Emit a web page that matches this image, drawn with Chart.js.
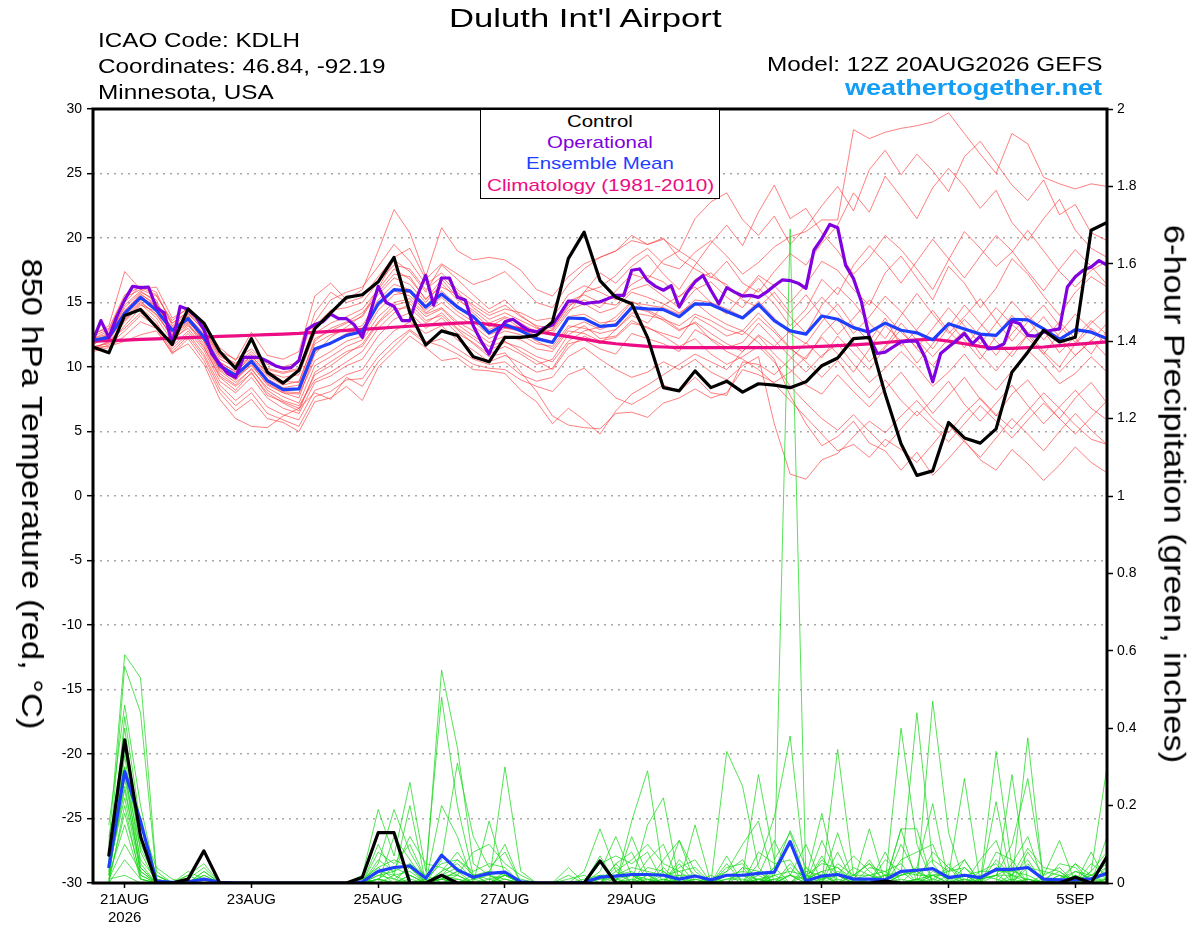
<!DOCTYPE html>
<html>
<head>
<meta charset="utf-8">
<title>Duluth Int'l Airport - GEFS 850 hPa temperature and precipitation</title>
<script src="https://cdn.jsdelivr.net/npm/chart.js@4.4.1/dist/chart.umd.min.js"></script>
<style>
  html, body { margin: 0; padding: 0; background: #fff; }
  #wrap { position: relative; width: 1200px; height: 927px; overflow: hidden;
          font-family: 'Liberation Sans', Arial, sans-serif; color: #000; }
  #wrap canvas { position: absolute; left: 0; top: 0; }
  .txt { position: absolute; white-space: nowrap; line-height: 1; transform-origin: 0 0; }
  .rot { position: absolute; white-space: nowrap; line-height: 1; transform-origin: 50% 50%; }
  #legendBox { position: absolute; left: 480px; top: 109px; width: 238px; height: 88px;
               border: 1.5px solid #000; background: #fff; }
</style>
</head>
<body>
<div id="wrap">
  <canvas id="chart" width="1200" height="927"></canvas>
  <div id="legendBox"></div>

  <div class="txt" data-x="585" data-align="center" data-base="27" data-w="272" data-fs="26">Duluth Int'l Airport</div>
  <div class="txt" data-x="98" data-align="left" data-base="47" data-w="202" data-fs="21">ICAO Code: KDLH</div>
  <div class="txt" data-x="98" data-align="left" data-base="73" data-w="288" data-fs="21">Coordinates: 46.84, -92.19</div>
  <div class="txt" data-x="98" data-align="left" data-base="99" data-w="176" data-fs="21">Minnesota, USA</div>
  <div class="txt" data-x="1102" data-align="right" data-base="71" data-w="335" data-fs="21">Model: 12Z 20AUG2026 GEFS</div>
  <div class="txt" data-x="1102" data-align="right" data-base="96" data-w="257" data-fs="22" style="font-weight:bold;color:#139ef5">weathertogether.net</div>

  <div class="txt" data-x="600" data-align="center" data-base="127.5" data-w="66" data-fs="17">Control</div>
  <div class="txt" data-x="600" data-align="center" data-base="148.5" data-w="106" data-fs="17" style="color:#8000e0">Operational</div>
  <div class="txt" data-x="600" data-align="center" data-base="169.5" data-w="148" data-fs="17" style="color:#1f3fff">Ensemble Mean</div>
  <div class="txt" data-x="600" data-align="center" data-base="191" data-w="227" data-fs="17" style="color:#ec0c84">Climatology (1981-2010)</div>

  <div class="rot" data-cx="32" data-cy="494" data-len="471" data-fs="30">850 hPa Temperature (red, °C)</div>
  <div class="rot" data-cx="1174" data-cy="494" data-len="539" data-fs="30">6-hour Precipitation (green, inches)</div>
</div>

<script>
// ------------------------------------------------------------
// Data (hours after 12Z 20AUG2026; 6-hourly, operational 3-hourly)
// ------------------------------------------------------------
const tickHours  = [12, 60, 108, 156, 204, 276, 324, 372];
const tickLabels = [['21AUG', '2026'], '23AUG', '25AUG', '27AUG', '29AUG', '1SEP', '3SEP', '5SEP'];

// 850 hPa temperature, control run (every 6 h from 0 h)
const controlTemp = [11.55,11.1,14.0,14.45,13.1,11.75,14.5,13.4,11.2,9.9,12.2,9.6,8.75,9.75,12.97,14.2,15.4,15.6,16.6,18.5,
  14.2,11.7,12.8,12.45,10.8,10.4,12.3,12.3,12.45,13.5,18.4,20.45,16.7,15.4,14.9,12.3,8.4,8.15,9.7,8.4,
  8.9,8.05,8.7,8.6,8.4,8.85,10.1,10.7,12.2,12.3,7.9,4.05,1.6,1.95,5.7,4.5,4.1,5.2,9.6,11.15,
  12.85,11.95,12.3,20.6,21.2];

// operational run (every 3 h from 0 h)
const operTemp = [12.07,13.6,12.3,13.9,15.2,16.25,16.15,16.2,14.6,14.2,11.75,14.7,14.45,13.9,12.9,11.0,10.25,9.5,9.2,10.75,
  10.75,10.75,10.45,10.1,9.9,9.95,10.5,12.9,13.3,13.5,14.1,13.75,13.75,13.25,12.3,14.2,16.25,15.0,14.7,13.6,
  13.6,15.6,17.1,14.8,16.9,16.9,15.4,15.2,13.2,12.0,11.0,12.6,13.5,13.7,13.25,12.85,12.7,13.05,13.25,14.15,
  15.1,15.1,14.9,15.0,15.05,15.3,15.55,15.55,17.5,17.6,16.7,16.25,15.95,16.3,14.65,15.8,16.6,17.1,15.95,14.9,
  16.15,15.8,15.5,15.55,15.4,15.8,16.3,16.75,16.7,16.5,16.1,19.05,19.95,21.05,20.8,17.9,16.85,15.05,12.3,11.05,
  11.15,11.55,11.95,12.0,12.0,10.8,8.85,11.05,11.55,12.05,12.6,11.8,12.4,11.4,11.5,11.8,13.55,13.35,12.45,12.4,
  12.7,12.85,12.95,16.2,17.0,17.5,17.75,18.25,17.9];

// ensemble mean
const meanTemp = [12.07,12.3,14.15,15.4,14.4,12.85,13.75,12.3,10.1,9.35,10.45,8.95,8.25,8.3,11.4,11.85,12.45,12.75,14.9,16.0,
  15.9,14.65,15.65,14.65,13.9,12.65,13.3,12.8,12.2,11.9,13.8,13.75,13.15,13.25,14.6,14.5,14.45,13.9,14.9,14.85,
  14.3,13.8,14.85,13.6,12.8,12.55,13.95,13.7,13.05,12.7,13.4,12.85,12.65,12.1,13.35,12.95,12.55,12.45,13.7,13.65,
  12.95,12.15,12.9,12.7,12.2];

// 1981-2010 climatology
const climTemp = [12.0,12.05,12.09,12.14,12.18,12.23,12.28,12.32,12.37,12.41,12.46,12.51,12.55,12.6,12.68,12.76,12.84,12.92,13.0,13.08,
  13.16,13.24,13.32,13.4,13.45,13.3,13.15,12.95,12.75,12.55,12.35,12.15,11.95,11.8,11.7,11.6,11.55,11.5,11.5,11.5,
  11.5,11.5,11.5,11.5,11.5,11.55,11.6,11.65,11.72,11.8,11.9,12.0,12.1,12.15,12.0,11.8,11.6,11.45,11.45,11.5,
  11.55,11.65,11.75,11.85,11.95];

// perturbed members, 850 hPa temperature
const memberTemps = [
  [12.2,12.8,15.0,16.3,15.8,13.2,14.1,12.9,10.8,10.2,11.0,9.8,9.5,9.8,13.5,15.2,15.8,16.2,17.8,19.5,18.2,16.4,17.3,16.0,15.1,
   14.2,14.8,13.9,13.2,13.0,14.6,15.8,16.2,17.1,18.4,19.2,18.0,17.6,18.9,19.8,18.6,17.2,18.1,19.3,
   20.1,20.5,21.4,21.4,28.4,27.7,28.2,28.5,28.7,29.0,29.7,28.1,26.5,25.0,28.1,27.3,24.7,24.2,23.8,24.2,24.0],
  [11.8,12.5,14.6,15.8,15.2,12.4,13.9,12.6,10.4,9.6,10.9,9.4,8.9,8.8,12.2,12.8,13.4,13.9,15.8,17.2,17.0,15.2,16.8,15.4,14.2,
   13.1,13.8,13.0,12.4,12.9,14.8,15.2,14.6,15.9,17.2,16.8,18.3,19.0,21.5,22.8,23.5,21.4,20.2,21.7,
   19.5,20.8,22.5,24.0,22.1,25.3,26.8,24.9,26.5,25.2,23.6,26.3,27.5,25.8,24.1,22.9,24.5,21.8,22.6,20.4,19.8],
  [12.5,13.2,17.4,16.0,16.2,13.8,14.5,13.2,11.5,10.5,12.7,10.9,10.6,11.2,15.5,16.5,15.2,16.0,19.0,22.2,20.4,17.0,20.8,19.0,18.3,
   18.5,18.3,17.5,16.0,15.5,17.0,18.0,18.5,19.0,20.2,19.5,20.0,18.4,17.6,16.9,18.2,16.5,15.8,17.4,
   18.8,17.9,19.6,21.0,23.5,22.0,24.8,23.2,21.5,23.9,25.4,24.0,22.3,23.7,21.2,19.8,21.5,23.0,20.6,19.2,18.5],
  [12.0,12.1,14.2,15.6,14.9,12.9,14.0,12.0,9.8,9.0,10.2,8.6,8.0,7.6,11.0,12.3,13.1,14.0,16.1,18.3,17.4,15.8,17.9,16.8,15.6,
   14.5,15.2,14.0,13.1,12.6,14.2,15.8,17.3,16.5,17.8,18.7,17.2,16.0,17.9,19.6,21.0,19.4,22.0,24.1,
   21.5,22.3,20.4,19.0,17.2,18.5,20.2,19.1,17.6,16.0,18.3,20.5,19.2,17.8,18.9,20.6,19.0,17.4,16.2,17.5,18.2],
  [11.5,11.9,13.5,14.8,14.3,12.2,13.0,11.5,9.2,8.2,9.6,7.8,7.3,6.8,9.4,10.1,11.0,11.8,13.5,14.8,15.1,13.9,14.5,13.3,12.4,
   11.6,12.0,11.2,10.5,9.8,11.5,12.4,11.8,12.9,14.0,13.4,14.8,15.5,16.2,15.0,14.1,15.6,17.1,16.3,
   15.0,16.4,18.2,17.5,16.0,14.8,17.3,18.6,16.9,15.2,17.8,16.5,14.6,16.1,18.4,17.2,15.5,14.0,15.8,17.0,16.2],
  [11.9,12.2,13.9,15.1,14.0,12.5,13.4,11.8,9.5,8.6,9.9,8.2,7.4,7.0,9.0,9.6,10.4,11.2,13.0,14.2,14.9,13.6,14.0,12.9,11.8,
   10.8,11.1,9.6,8.1,6.2,5.5,5.3,5.2,6.4,6.5,6.1,7.2,7.6,8.3,7.6,8.0,9.8,9.4,8.8,
   9.6,10.8,12.3,11.0,9.6,11.4,13.2,12.0,10.3,11.8,13.5,12.1,10.6,12.4,14.0,12.7,11.2,10.0,11.8,13.0,12.0],
  [12.1,12.4,14.4,15.5,14.6,13.0,13.8,12.4,10.2,9.5,10.6,9.1,8.4,8.6,11.8,12.5,12.9,13.2,15.2,16.4,16.0,14.8,15.9,14.8,13.9,
   12.9,13.4,13.0,12.3,12.0,13.9,14.1,13.4,13.6,15.0,14.8,14.6,14.1,15.2,15.0,14.5,13.9,15.1,13.8,
   12.6,11.8,13.5,14.9,13.2,12.0,13.8,11.6,12.9,14.4,12.8,11.5,13.1,14.6,13.3,12.2,11.0,12.6,14.1,12.9,11.7],
  [12.3,12.0,14.0,15.2,14.8,13.4,14.2,12.8,10.6,10.0,10.8,9.6,9.2,9.4,12.6,13.4,13.9,14.5,16.0,17.6,16.8,15.3,16.2,15.6,14.8,
   14.0,14.5,14.2,13.6,13.8,15.6,16.3,15.8,15.2,16.4,17.1,16.6,15.4,16.8,17.3,16.2,15.5,16.9,15.4,
   13.9,12.6,14.8,16.2,15.0,13.4,12.2,14.0,15.7,14.1,12.6,13.9,15.3,13.6,12.0,13.5,14.8,13.2,11.9,13.4,14.5],
  [11.7,12.6,13.6,14.9,13.8,12.0,13.2,12.1,9.9,9.2,10.1,8.7,8.0,7.9,10.5,11.2,12.0,12.4,14.4,15.6,15.8,14.2,15.0,14.0,13.2,
   12.2,12.8,12.5,11.8,11.6,13.2,13.0,12.6,12.9,14.2,14.0,13.7,13.2,14.1,13.6,12.9,12.5,13.8,12.7,
   11.4,10.6,12.5,13.8,11.9,10.4,11.6,13.4,12.1,10.8,12.2,13.7,12.4,10.9,12.6,14.0,12.8,11.1,12.4,13.6,12.5],
  [12.4,12.9,15.4,16.0,15.5,13.6,14.6,13.5,11.2,10.6,11.4,10.2,10.0,10.4,14.2,15.8,15.0,15.4,17.0,18.5,19.2,16.8,18.0,17.2,16.4,
   16.8,17.4,16.2,15.0,14.6,16.4,17.6,18.5,19.0,19.8,19.5,19.9,19.0,18.2,17.0,16.4,15.2,14.6,15.8,
   14.2,15.6,14.0,12.5,13.8,15.2,14.1,12.7,11.5,13.0,14.6,13.2,11.8,13.4,15.1,13.7,12.1,13.5,12.2,11.0,12.8],
  [11.6,11.8,13.2,14.6,13.5,11.4,12.6,11.0,8.6,7.4,8.4,6.9,6.3,5.9,8.2,8.6,9.4,9.8,11.6,12.8,13.5,12.6,13.2,12.1,11.3,
   10.4,10.9,10.3,9.6,9.9,11.8,12.1,11.4,11.0,12.6,12.2,11.8,11.2,12.9,12.2,11.5,11.9,13.4,12.1,
   10.8,9.6,10.9,11.8,10.2,8.8,9.9,11.2,10.0,8.5,9.6,11.0,9.4,8.2,9.7,11.3,10.1,8.7,9.5,10.8,9.6],
  [11.2,11.5,12.4,13.5,13.0,11.0,12.2,10.5,8.0,6.6,7.5,6.0,5.7,5.0,7.3,7.6,8.5,7.4,10.0,11.2,12.4,11.5,10.5,10.7,9.8,
   9.7,9.5,8.2,7.3,5.6,6.8,5.9,4.8,6.6,7.9,8.6,9.4,10.2,11.0,10.4,9.8,11.2,12.5,11.6,
   12.8,14.0,15.4,14.2,12.6,13.9,15.5,14.3,12.8,11.4,13.1,14.8,13.4,12.0,10.8,12.5,13.9,12.3,10.9,12.0,13.4],
  [12.0,12.3,14.8,15.9,15.0,12.6,13.5,12.2,10.0,9.0,10.4,8.8,8.1,8.0,11.2,11.9,12.6,13.0,14.7,15.9,15.5,14.4,15.4,14.3,13.5,
   12.5,13.0,12.8,12.0,11.4,13.0,13.5,12.9,13.4,14.6,14.3,13.6,12.8,13.5,12.6,11.8,11.2,12.4,11.0,
   9.8,8.6,7.9,9.4,8.1,6.9,8.3,9.6,8.0,6.4,7.8,9.2,7.5,6.2,7.9,9.0,7.4,6.0,7.6,8.8,7.2],
  [11.4,12.0,13.0,14.2,13.3,11.6,12.8,11.3,8.9,8.0,9.2,7.6,6.8,6.4,8.8,9.3,10.1,10.6,12.4,13.7,14.2,13.0,13.8,12.6,11.9,
   11.0,11.6,11.0,10.2,10.6,12.5,13.2,12.2,12.4,13.6,13.0,12.6,12.2,13.9,13.2,12.4,12.8,14.2,12.9,
   11.5,10.4,9.2,10.5,8.9,7.6,9.0,7.4,6.2,7.5,8.9,7.1,5.8,7.2,8.6,7.0,5.6,6.9,8.2,6.8,5.9],
  [12.2,12.6,14.1,15.3,14.4,12.7,13.6,12.0,9.7,8.8,9.8,8.4,7.7,7.2,10.1,10.8,11.6,12.1,13.9,15.0,15.3,14.1,14.6,13.5,12.8,
   11.9,12.4,12.1,11.4,11.2,12.8,12.6,12.0,12.3,13.4,13.1,12.4,11.6,12.2,11.0,10.2,10.8,11.6,10.4,
   8.5,7.2,6.0,5.1,6.3,5.0,3.8,5.2,6.6,5.4,4.2,5.6,7.0,5.8,4.5,5.9,7.2,6.0,4.8,6.1,7.4],
  [11.8,12.2,13.7,15.0,14.1,12.3,13.3,11.6,9.3,8.5,9.5,8.0,7.2,6.6,9.6,10.4,11.2,11.6,13.4,14.5,14.6,13.4,14.2,13.0,12.2,
   11.3,11.9,11.5,10.8,10.4,12.0,12.8,13.1,13.9,15.1,14.4,13.8,12.9,13.4,12.1,11.2,10.6,9.8,8.7,
   7.4,6.1,4.8,3.5,4.0,3.0,4.4,3.6,2.6,4.0,5.5,4.2,3.0,4.5,6.0,4.8,3.5,5.0,6.4,5.1,4.0],
  [12.6,13.0,15.6,16.2,15.6,13.4,14.3,13.0,10.9,10.3,11.2,9.9,9.6,9.9,13.2,14.4,14.6,15.0,16.6,17.9,17.6,16.0,17.0,15.8,14.6,
   13.7,14.2,13.6,13.0,12.8,14.4,14.9,14.2,14.6,15.8,15.4,14.9,14.2,15.0,14.0,13.3,12.8,11.9,10.6,
   7.8,5.6,3.9,4.6,5.8,4.1,3.5,2.0,3.4,1.6,2.9,4.3,2.8,2.0,3.6,2.5,1.2,2.4,3.8,2.6,1.8],
  [11.3,11.7,12.8,14.0,13.2,11.2,12.4,10.8,8.3,7.0,8.0,6.4,5.9,5.4,7.7,8.1,9.0,9.1,10.8,12.0,12.9,12.0,11.6,11.0,10.2,
   9.9,9.8,9.0,8.5,8.1,9.4,9.9,8.8,7.6,7.1,7.8,8.6,8.1,9.2,8.0,7.8,10.4,10.2,9.4,
   10.6,11.9,10.7,12.4,11.1,9.8,11.5,12.9,11.4,10.1,11.7,12.8,11.0,9.7,11.2,12.5,11.0,9.6,10.9,12.1,10.8],
  [12.1,12.5,14.3,15.7,14.7,13.1,13.9,12.5,10.3,9.7,10.7,9.3,8.6,8.9,12.0,13.0,13.5,14.2,15.6,16.9,16.4,15.0,16.5,15.2,14.4,
   13.4,13.9,13.4,12.7,13.2,15.1,15.6,15.0,14.8,16.0,16.4,15.5,14.6,16.0,16.6,15.4,14.6,16.1,14.9,
   13.2,14.5,16.8,15.6,17.9,19.4,18.1,16.5,18.2,19.9,18.4,16.9,18.6,20.2,19.0,17.4,15.9,17.6,19.1,17.8,16.4],
  [11.5,11.6,12.0,12.5,12.8,11.1,11.8,10.2,7.5,6.0,5.4,5.3,6.2,6.8,8.0,7.5,9.2,8.5,10.4,11.6,12.8,11.8,12.2,11.4,10.6,
   10.2,10.4,9.4,8.9,9.2,10.8,11.5,10.6,9.8,9.2,9.6,10.4,9.8,10.6,9.6,9.0,10.1,10.8,5.6,
   1.7,1.3,2.8,3.3,4.6,5.8,4.9,6.2,7.4,6.0,4.9,6.4,7.6,6.3,5.2,6.6,8.0,6.8,5.5,4.4,4.0]
];

// 6-hour precipitation (every 6 h from 6 h)
const controlPrecip = [0.072,0.37,0.12,0,0,0.01,0.083,0, 0,0,0,0,0,0,0,0, 0.015,0.13,0.13,0,0,0.02,0,0,
  0,0,0,0,0,0,0,0.057, 0,0,0,0,0,0,0,0, 0,0,0,0,0,0,0,0, 0,0.005,0,0,0,0,0,0, 0,0,0,0,0,0.015,0,0.068];

const meanPrecip = [0.042,0.288,0.16,0.005,0.002,0.003,0.01,0.002, 0,0,0,0,0,0,0,0, 0.003,0.03,0.04,0.044,0.012,0.072,0.034,0.015,
  0.025,0.028,0.003,0,0,0,0.002,0.015, 0.018,0.022,0.022,0.02,0.01,0.018,0.008,0.02, 0.02,0.025,0.028,0.107,0.005,0.018,0.022,0.01,
  0.01,0.008,0.03,0.033,0.037,0.014,0.02,0.014, 0.035,0.035,0.04,0.01,0.008,0.008,0.011,0.025];

const memberPrecips = [
  [0.10,0.59,0.53,0.03,0,0.02,0.05,0, 0,0,0,0,0,0,0,0, 0,0.05,0.19,0.08,0.01,0.55,0.35,0.05, 0.02,0,0,0,0,0,0,0.03,
   0.12,0.02,0,0.06,0.11,0,0,0.34, 0.25,0.04,0,0,0.02,0,0.08,0, 0,0,0.40,0.10,0,0,0.02,0, 0,0.05,0.12,0,0,0,0.03,0.30],
  [0.05,0.56,0.44,0.02,0,0,0.03,0, 0,0,0,0,0,0,0,0, 0.02,0.19,0.07,0.26,0.03,0.48,0.20,0.02, 0,0.30,0.03,0,0,0.04,0,0,
   0,0.16,0.29,0.02,0,0.15,0,0, 0.02,0.28,0.06,0.13,0.01,0.18,0,0, 0.14,0,0.02,0.44,0.05,0,0,0, 0.34,0.04,0,0.02,0.11,0,0,0.12],
  [0.15,0.46,0.20,0.01,0,0.03,0.01,0, 0,0,0,0,0,0,0,0, 0,0.10,0.02,0.20,0,0.20,0.12,0, 0.16,0.02,0,0,0,0,0.03,0.14,
   0.03,0,0.15,0.22,0,0,0.02,0, 0,0.05,0.17,0.38,0,0,0.345,0.02, 0,0.08,0,0,0.47,0.13,0,0, 0.21,0,0.05,0,0,0.05,0,0],
  [0,0.43,0.15,0.04,0.01,0,0.02,0, 0,0,0,0,0,0,0,0, 0.01,0,0.12,0.06,0,0.06,0.31,0.12, 0.04,0.08,0,0,0,0,0,0.07,
   0,0.12,0.02,0,0.11,0.03,0,0.07, 0,0,0.02,1.69,0,0.11,0.02,0.07, 0.03,0,0.14,0,0.02,0.02,0.27,0, 0,0.28,0,0,0.02,0,0.08,0],
  [0.08,0.40,0.10,0.02,0,0,0,0, 0,0,0,0,0,0,0,0, 0,0.06,0.03,0.12,0.05,0.04,0.02,0.08, 0.10,0.05,0.02,0,0,0,0,0,
   0.05,0.08,0,0.04,0,0,0,0.03, 0.10,0.16,0,0.02,0.10,0,0.13,0, 0,0,0.14,0.14,0,0.05,0,0.06, 0.11,0,0.375,0,0,0.03,0.02,0],
  [0.02,0.35,0.08,0,0,0.01,0.04,0, 0,0,0,0,0,0,0,0, 0,0.03,0,0.02,0,0.02,0.06,0.02, 0,0.03,0,0,0,0,0,0.02,
   0.02,0.04,0.03,0.02,0.02,0.02,0,0, 0,0.02,0.11,0.02,0.01,0.03,0,0.02, 0.02,0.03,0,0.04,0.205,0,0.04,0.01, 0.02,0.10,0.27,0.01,0,0.02,0,0.03],
  [0,0.33,0.05,0,0,0,0,0, 0,0,0,0,0,0,0,0, 0,0.02,0.01,0.04,0,0.03,0.05,0.01, 0.03,0.02,0,0,0,0.02,0,0,
   0.04,0,0.06,0.10,0,0,0,0, 0.04,0,0.03,0.135,0.04,0,0.05,0.02, 0.05,0.02,0.03,0,0.03,0.01,0.02,0, 0.02,0.02,0.09,0.04,0.03,0,0.05,0.02],
  [0.12,0.30,0.02,0,0,0,0,0, 0,0,0,0,0,0,0,0, 0,0.01,0.04,0.02,0,0.02,0.02,0, 0,0.02,0.01,0,0,0,0,0.01,
   0.02,0.03,0,0.02,0.03,0.04,0,0.02, 0.03,0.02,0,0.04,0,0.06,0.02,0, 0,0.06,0.03,0.02,0.02,0.03,0.04,0, 0.06,0.02,0,0,0.02,0.01,0.02,0.05],
  [0.02,0.27,0.06,0.01,0,0,0.03,0, 0,0,0,0,0,0,0,0, 0,0.03,0.02,0,0.01,0.01,0.03,0.02, 0.01,0,0,0,0,0.01,0.02,0,
   0.02,0.02,0.01,0,0.05,0,0.01,0.03, 0.06,0,0.02,0.03,0.02,0.01,0.03,0.01, 0.02,0,0.02,0.03,0.01,0.04,0.02,0.03, 0.03,0.03,0.02,0,0.01,0.03,0.01,0.01],
  [0.03,0.25,0.04,0,0,0,0,0, 0,0,0,0,0,0,0,0, 0,0,0.02,0.03,0,0.01,0,0.01, 0,0.01,0,0,0,0,0,0,
   0,0.01,0,0,0.02,0,0,0, 0,0.03,0,0.02,0,0.02,0,0, 0.01,0,0,0.01,0.02,0,0.01,0, 0,0.02,0.01,0,0,0,0.01,0.02],
  [0.04,0.22,0.03,0,0,0,0,0, 0,0,0,0,0,0,0,0, 0,0.01,0,0.05,0.02,0,0.01,0, 0.01,0.02,0,0,0,0,0.01,0.02,
   0.01,0,0.04,0.03,0,0.02,0,0.01, 0.02,0,0.04,0,0.03,0.02,0,0.04, 0.02,0.01,0.02,0.03,0,0.02,0,0.02, 0.01,0,0.04,0.03,0.02,0,0,0.04],
  [0,0.20,0.01,0,0,0,0,0, 0,0,0,0,0,0,0,0, 0,0.04,0.01,0,0,0.02,0.01,0, 0,0,0,0,0,0,0,0,
   0,0.02,0,0,0.01,0,0,0.02, 0,0.01,0,0,0,0.02,0.02,0, 0,0,0.01,0,0.02,0,0,0.01, 0.02,0,0,0,0.01,0,0,0],
  [0.01,0.18,0.02,0,0,0,0,0, 0,0,0,0,0,0,0,0, 0,0,0,0.01,0,0.01,0,0.02, 0.02,0,0,0,0,0,0,0,
   0.01,0,0,0.01,0,0,0,0.01, 0.01,0,0.01,0.02,0,0.01,0.02,0, 0.01,0.02,0,0.01,0,0,0.01,0, 0,0.01,0,0,0,0.02,0,0.01],
  [0.02,0.15,0.01,0,0,0,0,0, 0,0,0,0,0,0,0,0, 0,0.01,0,0,0,0,0.02,0, 0,0,0,0,0,0,0,0,
   0,0,0.01,0,0,0.01,0,0, 0,0.01,0,0,0,0,0.01,0, 0,0,0,0,0.01,0,0,0, 0,0,0.01,0,0,0,0.01,0],
  [0.06,0.30,0.12,0.02,0,0,0.02,0, 0,0,0,0,0,0,0,0, 0,0.08,0.05,0.10,0.01,0.05,0.06,0.03, 0.05,0.04,0,0,0,0,0,0.05,
   0.07,0.05,0.08,0,0.04,0.06,0,0.05, 0,0.08,0.05,0.06,0,0.07,0,0.02, 0.05,0,0.06,0.08,0.10,0,0.06,0, 0.08,0.06,0,0,0.05,0.04,0,0.06],
  [0.07,0.28,0.09,0.01,0,0.02,0,0, 0,0,0,0,0,0,0,0, 0.01,0.04,0.06,0.04,0,0.03,0.08,0.02, 0.03,0.10,0,0,0,0,0,0,
   0.03,0.06,0.10,0.05,0.03,0,0,0.04, 0.05,0,0.04,0.10,0.02,0.05,0.04,0, 0.04,0.03,0.05,0,0.08,0.04,0,0.03, 0.05,0,0.08,0.02,0.04,0,0.03,0.08],
  [0.03,0.24,0.04,0,0,0,0,0, 0,0,0,0,0,0,0,0, 0,0.02,0.03,0.05,0,0.02,0.04,0.01, 0.02,0.01,0,0,0,0,0,0,
   0.05,0,0.02,0,0.06,0.02,0,0, 0.04,0.03,0,0.05,0.01,0.03,0.04,0.01, 0.06,0,0.10,0.02,0.06,0.03,0.06,0, 0.04,0.02,0.06,0,0.01,0.05,0.02,0.04],
  [0.01,0.10,0.03,0,0,0,0,0, 0,0,0,0,0,0,0,0, 0,0.01,0,0.02,0,0.01,0.03,0, 0,0.02,0,0,0,0,0,0.01,
   0.01,0.02,0,0.03,0,0.01,0,0.02, 0.02,0.01,0.02,0,0.04,0,0.02,0.01, 0,0.02,0.02,0.04,0,0,0.02,0.01, 0.02,0.04,0,0.01,0.03,0,0.02,0.02],
  [0,0.06,0.01,0,0,0,0,0, 0,0,0,0,0,0,0,0, 0,0,0,0,0,0.01,0,0, 0,0,0,0,0,0,0,0,
   0,0,0,0.01,0,0,0,0, 0,0,0.01,0,0,0,0,0, 0,0,0,0.01,0,0,0,0, 0,0,0.01,0,0,0,0,0.01],
  [0.01,0.02,0,0,0,0,0,0, 0,0,0,0,0,0,0,0, 0,0,0,0,0,0,0,0, 0,0,0,0,0,0,0,0,
   0,0,0,0,0,0,0,0, 0,0,0,0,0,0,0,0, 0,0,0,0,0,0,0,0, 0,0,0,0,0,0,0,0]
];

// ------------------------------------------------------------
// Colours
// ------------------------------------------------------------
const RED    = 'rgba(255,55,55,0.8)';
const GREEN  = 'rgba(20,215,20,0.9)';
const PURPLE = '#8000e0';
const BLUE   = '#1f3fff';
const PINK   = '#ec0c84';

function toPoints(values, stepHours, startHour) {
  return values.map((v, i) => ({ x: startHour + i * stepHours, y: v }));
}

function thinLine(values, step, start, color, axis, order) {
  return { data: toPoints(values, step, start), borderColor: color, borderWidth: 0.8,
           yAxisID: axis, order: order, pointRadius: 0 };
}

function thickLine(values, step, start, color, axis, order) {
  return { data: toPoints(values, step, start), borderColor: color, borderWidth: 3.2,
           borderJoinStyle: 'round', borderCapStyle: 'round',
           yAxisID: axis, order: order, pointRadius: 0 };
}

const datasets = [];
memberTemps.forEach(m => datasets.push(thinLine(m, 6, 0, RED, 'y', 60)));
memberPrecips.forEach(m => datasets.push(thinLine(m, 6, 6, GREEN, 'y2', 50)));
datasets.push(thickLine(climTemp, 6, 0, PINK, 'y', 40));
datasets.push(thickLine(meanTemp, 6, 0, BLUE, 'y', 30));
datasets.push(thickLine(operTemp, 3, 0, PURPLE, 'y', 25));
datasets.push(thickLine(controlTemp, 6, 0, '#000', 'y', 20));
datasets.push(thickLine(meanPrecip, 6, 6, BLUE, 'y2', 15));
datasets.push(thickLine(controlPrecip, 6, 6, '#000', 'y2', 10));

// frame around the plot area
const framePlugin = {
  id: 'frame',
  afterDatasetsDraw(chart) {
    const { ctx, chartArea: a } = chart;
    ctx.save();
    ctx.strokeStyle = '#000';
    ctx.lineWidth = 3;
    ctx.strokeRect(a.left, a.top, a.right - a.left, a.bottom - a.top);
    ctx.restore();
  }
};

Chart.defaults.font.family = "'Liberation Sans', Arial, sans-serif";
Chart.defaults.color = '#000';

new Chart(document.getElementById('chart'), {
  type: 'line',
  data: { datasets },
  options: {
    responsive: false,
    animation: false,
    events: [],
    parsing: true,
    layout: { padding: { top: 109, left: 0, right: 0, bottom: 0 } },
    elements: { line: { tension: 0, fill: false } },
    plugins: { legend: { display: false }, tooltip: { enabled: false }, title: { display: false } },
    scales: {
      x: {
        type: 'linear', min: 0, max: 384,
        afterBuildTicks: axis => { axis.ticks = tickHours.map(v => ({ value: v })); },
        afterFit: axis => { axis.height = 44; },
        ticks: {
          autoSkip: false, maxRotation: 0, padding: 3,
          font: { size: 15 },
          callback: (v, i) => tickLabels[i]
        },
        grid: { drawOnChartArea: false, tickLength: 5, tickColor: '#000', tickWidth: 1.5 },
        border: { display: false }
      },
      y: {
        position: 'left', min: -30, max: 30,
        afterFit: axis => { axis.width = 93; },
        ticks: { stepSize: 5, padding: 5, font: { size: 14 } },
        grid: {
          color: c => (c.tick && Math.abs(c.tick.value) === 30) ? 'rgba(0,0,0,0)' : '#a8a8a8',
          lineWidth: 1.4, tickLength: 6, tickColor: '#000', tickWidth: 1.5
        },
        border: { display: false, dash: [2, 5] }
      },
      y2: {
        position: 'right', min: 0, max: 2,
        afterFit: axis => { axis.width = 93; },
        ticks: {
          stepSize: 0.2, padding: 4, font: { size: 14 },
          callback: v => (Math.abs(v - Math.round(v)) < 1e-6 ? String(Math.round(v)) : v.toFixed(1))
        },
        grid: { drawOnChartArea: false, tickLength: 6, tickColor: '#000', tickWidth: 1.5 },
        border: { display: false }
      }
    }
  },
  plugins: [framePlugin]
});

// ------------------------------------------------------------
// Header, legend and axis titles (HTML text, stretched to fit)
// ------------------------------------------------------------
function placeTexts() {
  document.querySelectorAll('.txt').forEach(el => {
    const fs = parseFloat(el.dataset.fs);
    el.style.fontSize = fs + 'px';
    el.style.transform = 'none';
    const natural = el.offsetWidth;
    const w = parseFloat(el.dataset.w);
    let left = parseFloat(el.dataset.x);
    if (el.dataset.align === 'center') left -= w / 2;
    if (el.dataset.align === 'right') left -= w;
    el.style.left = left + 'px';
    el.style.top = (parseFloat(el.dataset.base) - 0.8465 * fs) + 'px';
    el.style.transform = 'scaleX(' + (w / natural) + ')';
  });
  document.querySelectorAll('.rot').forEach(el => {
    const fs = parseFloat(el.dataset.fs);
    el.style.fontSize = fs + 'px';
    el.style.transform = 'none';
    const w0 = el.offsetWidth, h0 = el.offsetHeight;
    el.style.left = (parseFloat(el.dataset.cx) - w0 / 2) + 'px';
    el.style.top = (parseFloat(el.dataset.cy) - h0 / 2) + 'px';
    el.style.transform = 'rotate(90deg) scaleX(' + (parseFloat(el.dataset.len) / w0) + ')';
  });
}
placeTexts();
if (document.fonts && document.fonts.ready) document.fonts.ready.then(placeTexts);
</script>
</body>
</html>
